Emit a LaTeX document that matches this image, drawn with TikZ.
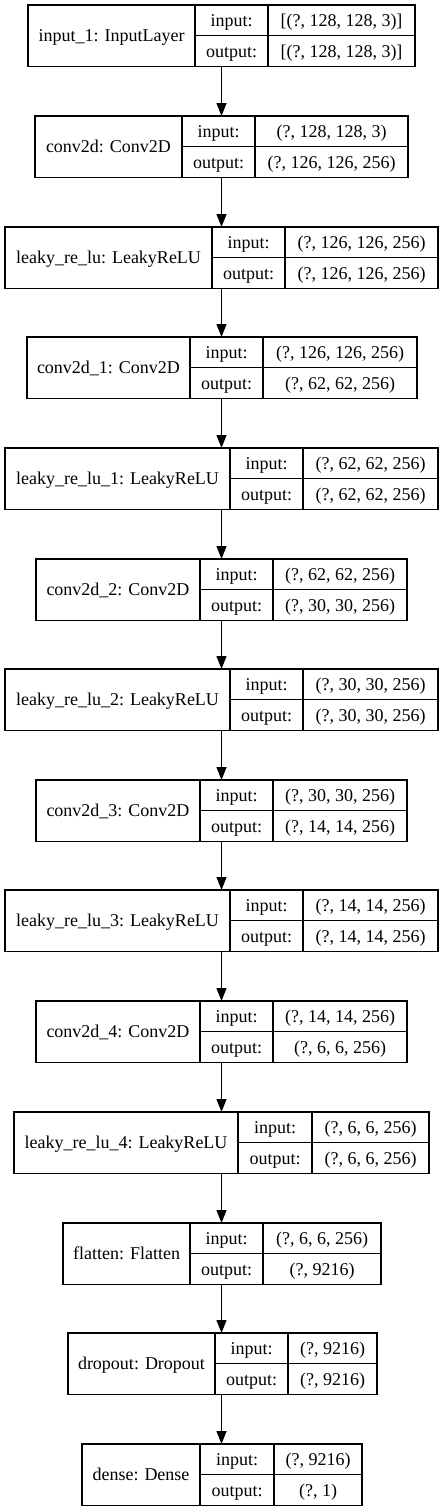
\documentclass[tikz,border=0pt]{standalone}
\usepackage{fontspec}
\setmainfont{Liberation Serif}
\usepackage{tikz}
\usetikzlibrary{shapes,arrows.meta,backgrounds}
\tikzset{
  cellbox/.style={ draw, line width=1.33pt, outer sep=0pt, inner sep=0pt, anchor=north west,
    text height=12pt, text depth=0pt, font=\fontsize{18}{20}\selectfont }
}
\tikzset{
  namecell/.style={ cellbox, minimum height=61.5pt }
}
\tikzset{
  iocell/.style={ cellbox, minimum height=30.75pt }
}
\tikzset{
  flow/.style={ -{Triangle[length=13pt,width=10pt]}, line width=1.33pt }
}
% #1 name, #2 top, #3-#6 column edges, #7 layer, #8 input shape, #9 output shape
\newcommand{\layerbox}[9]{%
  \node[namecell, minimum width={#4pt-#3pt}] (#1) at (#3,-#2) {#7};
  \node[iocell, minimum width={#5pt-#4pt}] (#1-in) at (#4,-#2) {input:};
  \node[iocell, minimum width={#5pt-#4pt}] (#1-out) at (#4,{-#2-30.75}) {output:};
  \node[iocell, minimum width={#6pt-#5pt}] (#1-inv) at (#5,-#2) {#8};
  \node[iocell, minimum width={#6pt-#5pt}] (#1-outv) at (#5,{-#2-30.75}) {#9};
  \coordinate (#1-top) at (221.5,-#2);
  \coordinate (#1-bot) at (221.5,{-#2-61.5});
}

\begin{document}
\begin{tikzpicture}[x=1pt, y=1pt]
  \useasboundingbox (0,0) rectangle (444,-1512);
  \layerbox{in1}{5}{28}{195}{268}{415}{input\_1: InputLayer}{[(?, 128, 128, 3)]}{[(?, 128, 128, 3)]}
  \layerbox{c0}{116}{35}{182}{255}{408}{conv2d: Conv2D}{(?, 128, 128, 3)}{(?, 126, 126, 256)}
  \layerbox{lr0}{227}{5}{212}{285}{438}{leaky\_re\_lu: LeakyReLU}{(?, 126, 126, 256)}{(?, 126, 126, 256)}
  \layerbox{c1}{337}{27}{190}{263}{417}{conv2d\_1: Conv2D}{(?, 126, 126, 256)}{(?, 62, 62, 256)}
  \layerbox{lr1}{448}{5}{230}{303}{438}{leaky\_re\_lu\_1: LeakyReLU}{(?, 62, 62, 256)}{(?, 62, 62, 256)}
  \layerbox{c2}{559}{36}{200}{273}{407}{conv2d\_2: Conv2D}{(?, 62, 62, 256)}{(?, 30, 30, 256)}
  \layerbox{lr2}{669}{5}{230}{303}{438}{leaky\_re\_lu\_2: LeakyReLU}{(?, 30, 30, 256)}{(?, 30, 30, 256)}
  \layerbox{c3}{780}{36}{200}{273}{407}{conv2d\_3: Conv2D}{(?, 30, 30, 256)}{(?, 14, 14, 256)}
  \layerbox{lr3}{890}{5}{230}{303}{438}{leaky\_re\_lu\_3: LeakyReLU}{(?, 14, 14, 256)}{(?, 14, 14, 256)}
  \layerbox{c4}{1001}{36}{200}{273}{407}{conv2d\_4: Conv2D}{(?, 14, 14, 256)}{(?, 6, 6, 256)}
  \layerbox{lr4}{1112}{14}{238}{312}{429}{leaky\_re\_lu\_4: LeakyReLU}{(?, 6, 6, 256)}{(?, 6, 6, 256)}
  \layerbox{flat}{1223}{63}{190}{263}{381}{flatten: Flatten}{(?, 6, 6, 256)}{(?, 9216)}
  \layerbox{drop}{1333}{68}{215}{288}{377}{dropout: Dropout}{(?, 9216)}{(?, 9216)}
  \layerbox{dense}{1444}{82}{200}{274}{362}{dense: Dense}{(?, 9216)}{(?, 1)}

  \draw[flow] (in1-bot) -- (c0-top);
  \draw[flow] (c0-bot) -- (lr0-top);
  \draw[flow] (lr0-bot) -- (c1-top);
  \draw[flow] (c1-bot) -- (lr1-top);
  \draw[flow] (lr1-bot) -- (c2-top);
  \draw[flow] (c2-bot) -- (lr2-top);
  \draw[flow] (lr2-bot) -- (c3-top);
  \draw[flow] (c3-bot) -- (lr3-top);
  \draw[flow] (lr3-bot) -- (c4-top);
  \draw[flow] (c4-bot) -- (lr4-top);
  \draw[flow] (lr4-bot) -- (flat-top);
  \draw[flow] (flat-bot) -- (drop-top);
  \draw[flow] (drop-bot) -- (dense-top);
\end{tikzpicture}
\end{document}
